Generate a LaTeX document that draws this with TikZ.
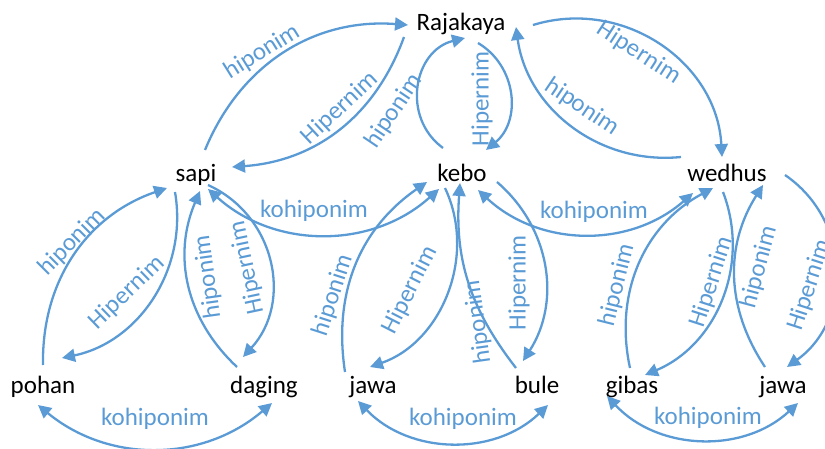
\documentclass[tikz,border=0pt]{standalone}
\usepackage{fontspec}
\setmainfont{Carlito}
\usetikzlibrary{arrows.meta}
\definecolor{relblue}{HTML}{5B9BD5}
\begin{document}
\begin{tikzpicture}[x=1pt,y=1pt,
  word/.style={inner sep=0pt, anchor=base, font=\fontsize{25}{30}\selectfont, text=black},
  lbl/.style={inner sep=0pt, font=\fontsize{25}{30}\selectfont, text=relblue},
  tip/.style={Triangle[length=13pt,width=13pt]},
  oneway/.style={draw=relblue, line width=2.3pt, -{Triangle[length=13pt,width=13pt]}},
  twoway/.style={draw=relblue, line width=2.3pt, {Triangle[length=13pt,width=13pt]}-{Triangle[length=13pt,width=13pt]}}]
\useasboundingbox (0,0) rectangle (825,448);
\clip (0,0) rectangle (825,448);

% words
\node[word] (raj)    at (461,417) {Rajakaya};
\node[word] (sapi)   at (196,266) {sapi};
\node[word] (kebo)   at (462,266) {kebo};
\node[word] (wedhus) at (727,266) {wedhus};
\node[word] (pohan)  at (43,55)   {pohan};
\node[word] (daging) at (264,55)  {daging};
\node[word] (jawaL)  at (373,55)  {jawa};
\node[word] (bule)   at (537,55)  {bule};
\node[word] (gibas)  at (632,55)  {gibas};
\node[word] (jawaR)  at (783,55)  {jawa};

% Rajakaya and its three hyponyms
\draw[oneway] ([shift={(9,32)}]sapi.base) to[bend left=36] ([shift={(-53,6)}]raj.base);
\draw[oneway] ([shift={(-57,-6)}]raj.base) to[bend left=33] ([shift={(36,15)}]sapi.base);
\draw[oneway] ([shift={(-19,34)}]kebo.base) to[bend left=65,looseness=1.2] ([shift={(4,-7)}]raj.base);
\draw[oneway] ([shift={(17,-12)}]raj.base) to[bend left=55,looseness=1.09] ([shift={(24,32)}]kebo.base);
\draw[oneway] ([shift={(-46,25)}]wedhus.base) to[bend left=44] ([shift={(55,4)}]raj.base);
\draw[oneway] ([shift={(72,6)}]raj.base) to[bend left=52,looseness=1.05] ([shift={(-5,25)}]wedhus.base);

% co-hyponyms on the middle row
\draw[twoway] ([shift={(12,-7)}]sapi.base) to[bend right=42] ([shift={(-23,-7)}]kebo.base);
\draw[twoway] ([shift={(16,-8)}]kebo.base) to[bend right=42] ([shift={(-34,-11)}]wedhus.base);

% sapi
\draw[oneway] ([shift={(0,28)}]pohan.base) to[bend left=36] ([shift={(-29,-6)}]sapi.base);
\draw[oneway] ([shift={(-21,-10)}]sapi.base) to[bend left=44] ([shift={(19,35)}]pohan.base);
\draw[oneway] ([shift={(-27,26)}]daging.base) to[bend left=35] ([shift={(4,-9)}]sapi.base);
\draw[oneway] ([shift={(12,-3)}]sapi.base) to[bend left=54,looseness=1.08] ([shift={(-21,36)}]daging.base);

% kebo
\draw[oneway] ([shift={(-28,21)}]jawaL.base) to[bend left=32] ([shift={(-35,0)}]kebo.base);
\draw[oneway] ([shift={(-17,-6)}]kebo.base) to[bend left=48] ([shift={(-3,26)}]jawaL.base);
\draw[oneway] ([shift={(-21,25)}]bule.base) to[bend left=21] ([shift={(-2,-1)}]kebo.base);
\draw[oneway] ([shift={(35,0)}]kebo.base) to[bend left=41] ([shift={(-14,32)}]bule.base);

% wedhus
\draw[oneway] ([shift={(-2,25)}]gibas.base) to[bend left=37] ([shift={(-14,-6)}]wedhus.base);
\draw[oneway] ([shift={(-4,-10)}]wedhus.base) to[bend left=44] ([shift={(13,18)}]gibas.base);
\draw[oneway] ([shift={(-18,26)}]jawaR.base) to[bend left=33] ([shift={(36,-3)}]wedhus.base);
\draw[oneway] ([shift={(58,7)}]wedhus.base) to[bend left=55,looseness=1.08] ([shift={(4,26)}]jawaR.base);

% co-hyponyms on the bottom row
\draw[twoway] ([shift={(-5,-12)}]pohan.base) to[bend right=40] ([shift={(8,-10)}]daging.base);
\draw[twoway] ([shift={(-15,-8)}]jawaL.base) to[bend right=45] ([shift={(11,-12)}]bule.base);
\draw[twoway] ([shift={(-25,-3)}]gibas.base) to[bend right=45] ([shift={(15,-10)}]jawaR.base);

% relation labels
\node[lbl, rotate=32]  (l1)  at (262,396) {hiponim};
\node[lbl, rotate=43]  (l2)  at (340,340) {Hipernim};
\node[lbl, rotate=56]  (l3)  at (394,337) {hiponim};
\node[lbl, rotate=90]  (l4)  at (482,349) {Hipernim};
\node[lbl, rotate=-34] (l5)  at (582,341) {hiponim};
\node[lbl, rotate=-33] (l6)  at (639,395) {Hipernim};
\node[lbl]             (l7)  at (314,237) {kohiponim};
\node[lbl]             (l8)  at (594,236) {kohiponim};
\node[lbl, rotate=45]  (l9)  at (72,206)  {hiponim};
\node[lbl, rotate=44]  (l10) at (127,155) {Hipernim};
\node[lbl, rotate=98]  (l11) at (208,171) {hiponim};
\node[lbl, rotate=102] (l12) at (247,180) {Hipernim};
\node[lbl, rotate=72]  (l13) at (333,153) {hiponim};
\node[lbl, rotate=63]  (l14) at (410,158) {Hipernim};
\node[lbl, rotate=98]  (l15) at (478,126) {hiponim};
\node[lbl, rotate=90]  (l16) at (519,165) {Hipernim};
\node[lbl, rotate=76]  (l17) at (617,163) {hiponim};
\node[lbl, rotate=72]  (l18) at (712,166) {Hipernim};
\node[lbl, rotate=75]  (l19) at (759,181) {hiponim};
\node[lbl, rotate=72]  (l20) at (810,163) {Hipernim};
\node[lbl]             (l21) at (155,29)  {kohiponim};
\node[lbl]             (l22) at (463,29)  {kohiponim};
\node[lbl]             (l23) at (708,30)  {kohiponim};
\end{tikzpicture}
\end{document}
